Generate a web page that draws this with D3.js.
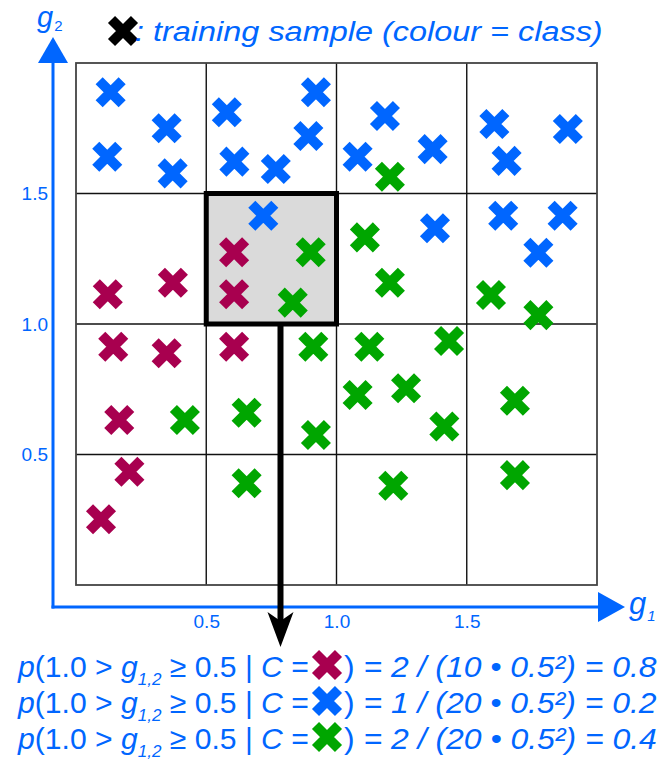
<!DOCTYPE html>
<html><head><meta charset="utf-8">
<script src="https://cdn.jsdelivr.net/npm/d3@7"></script>
<style>body{margin:0;background:#fff}svg{display:block}text{font-family:"Liberation Sans",Arial,sans-serif}</style>
</head><body>
<svg id="c" width="672" height="761"></svg>
<script>
// ---- data ----
const gridValues = [0, 0.5, 1.0, 1.5, 2.0];
const xTicks = [0.5, 1.0, 1.5];
const yTicks = [0.5, 1.0, 1.5];
const tickLabels = ["0.5", "1.0", "1.5"];
const classes = ["purple", "blue", "green"];
const classColors = ["#a8004f", "#0066ff", "#00a600"];
const purpleX = [0.122,0.372,0.607,0.607,0.143,0.348,0.166,0.607,0.205,0.096];
const purpleY = [1.114,1.158,1.275,1.114,0.913,0.888,0.632,0.913,0.434,0.252];
const blueX = [0.133,0.348,0.120,0.371,0.579,0.921,0.892,0.608,0.767,0.719,1.186,1.081,1.369,1.606,1.653,1.888,1.378,1.640,1.868,1.775];
const blueY = [1.888,1.750,1.641,1.577,1.811,1.888,1.720,1.622,1.594,1.415,1.797,1.641,1.670,1.766,1.625,1.747,1.367,1.415,1.415,1.273];
const greenX = [0.901,0.832,1.205,1.109,1.205,1.593,1.775,0.418,0.655,0.911,0.921,0.655,1.126,1.432,1.081,1.267,1.414,1.685,1.218,1.685];
const greenY = [1.275,1.082,1.564,1.332,1.158,1.111,1.034,0.632,0.660,0.913,0.575,0.390,0.913,0.935,0.728,0.754,0.607,0.706,0.380,0.421];
const highlight = {x0: 0.5, x1: 1.0, y0: 1.0, y1: 1.5};
const arrowX = 0.785;
const counts = [2, 1, 2];
const totals = [10, 20, 20];
const probs = ["0.8", "0.2", "0.4"];
const titleText = ": training sample (colour = class)";

// ---- drawing ----
const svg = d3.select("#c");
const blue = "#0066ff";
const x = d3.scaleLinear().domain([0, 2]).range([76, 597]);
const y = d3.scaleLinear().domain([0, 2]).range([585, 63]);
const xPath = "M-11.5,-11.5L11.5,11.5M11.5,-11.5L-11.5,11.5";

function marker(g, cx, cy, color) {
  g.append("path").attr("d", xPath).attr("transform", `translate(${cx},${cy})`)
    .attr("stroke", color).attr("stroke-width", 10).attr("fill", "none").attr("stroke-linecap", "butt");
}
function fit(sel, x0, x1) {
  const bb = sel.node().getBBox();
  const k = (x1 - x0) / bb.width;
  sel.attr("transform", `translate(${x0 - bb.x * k},0) scale(${k},1)`);
}

// highlighted cell
svg.append("rect").attr("x", x(highlight.x0)).attr("y", y(highlight.y1))
  .attr("width", x(highlight.x1) - x(highlight.x0)).attr("height", y(highlight.y0) - y(highlight.y1))
  .attr("fill", "#dadada");

// grid
const grid = svg.append("g");
gridValues.slice(1, -1).forEach(v => {
  grid.append("line").attr("x1", x(v)).attr("x2", x(v)).attr("y1", y(0)).attr("y2", y(2)).attr("stroke", "#111").attr("stroke-width", 1.4);
  grid.append("line").attr("y1", y(v)).attr("y2", y(v)).attr("x1", x(0)).attr("x2", x(2)).attr("stroke", "#111").attr("stroke-width", 1.4);
});
svg.append("rect").attr("x", x(0)).attr("y", y(2)).attr("width", x(2) - x(0)).attr("height", y(0) - y(2))
  .attr("fill", "none").attr("stroke", "#444").attr("stroke-width", 1.8);
svg.append("rect").attr("x", x(highlight.x0)).attr("y", y(highlight.y1))
  .attr("width", x(highlight.x1) - x(highlight.x0)).attr("height", y(highlight.y0) - y(highlight.y1))
  .attr("fill", "none").attr("stroke", "#000").attr("stroke-width", 5);

// axes (blue)
const ax0 = 53, ay0 = 607;
svg.append("line").attr("x1", ax0).attr("x2", ax0).attr("y1", ay0 + 1.5).attr("y2", 60).attr("stroke", blue).attr("stroke-width", 3);
svg.append("line").attr("x1", ax0 - 1.5).attr("x2", 600).attr("y1", ay0).attr("y2", ay0).attr("stroke", blue).attr("stroke-width", 3);
svg.append("path").attr("d", `M${ax0},37L${ax0 + 15},63L${ax0 - 15},63Z`).attr("fill", blue);
svg.append("path").attr("d", `M625,${ay0}L598,${ay0 - 15}L598,${ay0 + 15}Z`).attr("fill", blue);

// tick labels using d3 axes
const xAxis = d3.axisBottom(x).tickValues(xTicks).tickFormat((d, i) => tickLabels[i]).tickSize(0).tickPadding(8);
const gx = svg.append("g").attr("transform", `translate(0,${ay0})`).call(xAxis);
const yAxis = d3.axisLeft(y).tickValues(yTicks).tickFormat((d, i) => tickLabels[i]).tickSize(0).tickPadding(5);
const gy = svg.append("g").attr("transform", `translate(${ax0},0)`).call(yAxis);
[gx, gy].forEach(g => {
  g.attr("font-size", 19).attr("font-family", '"Liberation Sans",Arial,sans-serif');
  g.select(".domain").remove();
  g.selectAll("text").attr("fill", blue);
});

// axis names
const g2 = svg.append("text").attr("x", 37).attr("y", 27).attr("fill", blue);
g2.append("tspan").text("g").attr("font-style", "italic").attr("font-size", 29);
g2.append("tspan").text("2").attr("font-size", 15).attr("dy", 4).attr("dx", 1);
const g1 = svg.append("text").attr("x", 629).attr("y", 614).attr("fill", blue);
g1.append("tspan").text("g").attr("font-style", "italic").attr("font-size", 31);
g1.append("tspan").text("1").attr("font-style", "italic").attr("font-size", 15).attr("dy", 7).attr("dx", 1);

// samples
const pts = svg.append("g");
[[purpleX, purpleY], [blueX, blueY], [greenX, greenY]].forEach(([xs, ys], c) => {
  xs.forEach((v, i) => marker(pts, x(v), y(ys[i]), classColors[c]));
});

// arrow
const axp = x(arrowX);
svg.append("line").attr("x1", axp).attr("x2", axp).attr("y1", y(highlight.y0)).attr("y2", 625).attr("stroke", "#000").attr("stroke-width", 6);
svg.append("path").attr("d", `M${axp},647L${axp - 13},612L${axp},621L${axp + 13},612Z`).attr("fill", "#000");

// title
marker(svg, 123, 31, "#000");
const tt = svg.append("text").attr("y", 41).attr("fill", blue).attr("font-style", "italic").attr("font-size", 27).text(titleText);
fit(tt, 135, 603);

// formula lines
const base = [677, 713, 749];
classes.forEach((cl, i) => {
  const by = base[i];
  const L = svg.append("text").attr("y", by).attr("fill", blue).attr("font-size", 30);
  L.append("tspan").text("p").attr("font-style", "italic");
  L.append("tspan").text("(1.0 > ");
  L.append("tspan").text("g").attr("font-style", "italic");
  L.append("tspan").text("1,2").attr("font-style", "italic").attr("font-size", 17).attr("dy", 8);
  L.append("tspan").text(" ≥ 0.5 | ").attr("dy", -8);
  L.append("tspan").text("C").attr("font-style", "italic");
  L.append("tspan").text(" =");
  fit(L, 17, 309);
  marker(svg, 327, by - 12, classColors[i]);
  const R = svg.append("text").attr("y", by).attr("fill", blue).attr("font-size", 30);
  R.append("tspan").text(")");
  R.append("tspan").text(` = ${counts[i]} / (${totals[i]} • 0.5²) = ${probs[i]}`).attr("font-style", "italic");
  fit(R, 344, 657);
});
</script>
</body></html>
